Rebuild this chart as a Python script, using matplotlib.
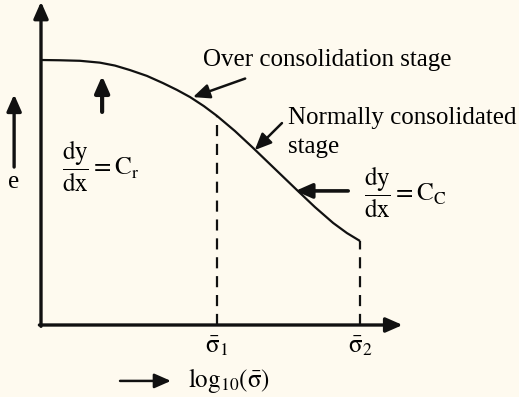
import matplotlib.pyplot as plt

# e - log(sigma) consolidation curve (schematic units)
log_sigma = [0.0, 0.59, 1.22, 1.84, 2.31, 2.78, 3.31, 3.81, 4.25, 4.66,
             5.09, 5.5, 6.06, 6.63, 7.31, 8.0, 8.56, 9.13, 9.56, 9.97]
void_ratio = [10.0, 9.99, 9.97, 9.90, 9.79, 9.62, 9.40, 9.13, 8.87, 8.60,
              8.26, 7.89, 7.32, 6.68, 5.89, 5.09, 4.45, 3.85, 3.47, 3.17]

# stress marks on the x axis
sigma_idx = [11, 19]
sigma_labels = [r'$\bar{\mathrm{\sigma}}_1$', r'$\bar{\mathrm{\sigma}}_2$']

BG = '#fefaef'
INK = '#111111'
FS = 18
plt.rcParams['font.family'] = ['Liberation Serif', 'DejaVu Serif']
plt.rcParams['mathtext.fontset'] = 'stix'

fig = plt.figure(figsize=(5.19, 3.97), dpi=100, facecolor=BG)
ax = fig.add_axes([0, 0, 1, 1])
ax.set_facecolor(BG)
ax.set_xlim(-41 / 32, 478 / 32)
ax.set_ylim(-72 / 26.5, 325 / 26.5)
ax.set_axis_off()

arrow = dict(arrowstyle='-|>,head_length=0.5,head_width=0.22', color=INK,
             lw=1.8, shrinkA=0, shrinkB=0, mutation_scale=20)

# axes with arrow heads
ax.annotate('', xy=(0, 12.2), xytext=(0, -0.05),
            arrowprops=dict(arrow, lw=2.4))
ax.annotate('', xy=(11.3, 0), xytext=(-0.05, 0),
            arrowprops=dict(arrow, lw=2.4))

# curve
ax.plot(log_sigma, void_ratio, color=INK, lw=1.6, solid_capstyle='butt')

# dashed drops to the stress axis
for i, lab in zip(sigma_idx, sigma_labels):
    xs = log_sigma[i]
    ax.plot([xs, xs], [0, void_ratio[i]], color=INK, lw=1.6,
            dashes=(5, 3.5))
    ax.text(xs, -0.8, lab, ha='center', va='center', fontsize=FS)

# labels and pointers
ax.text(5.07, 10.0, 'Over consolidation stage', ha='left', va='center',
        fontsize=FS)
ax.annotate('', xy=(4.75, 8.6), xytext=(6.38, 9.3), arrowprops=arrow)

ax.text(7.72, 7.8, 'Normally consolidated', ha='left', va='center',
        fontsize=FS)
ax.text(7.72, 6.7, 'stage', ha='left', va='center', fontsize=FS)
ax.annotate('', xy=(6.68, 6.6), xytext=(7.53, 7.62), arrowprops=arrow)

ax.text(10.1, 5.0, r'$\dfrac{\mathrm{dy}}{\mathrm{dx}}=\mathrm{C_C}$',
        ha='left', va='center', fontsize=FS)
ax.annotate('', xy=(7.95, 5.06), xytext=(9.6, 5.06),
            arrowprops=dict(arrow, lw=2.6))

ax.text(0.66, 6.0, r'$\dfrac{\mathrm{dy}}{\mathrm{dx}}=\mathrm{C_r}$',
        ha='left', va='center', fontsize=FS)
ax.annotate('', xy=(1.91, 9.4), xytext=(1.91, 8.04),
            arrowprops=dict(arrow, lw=3.0))

# axis titles
ax.annotate('', xy=(-0.84, 8.7), xytext=(-0.84, 5.96),
            arrowprops=dict(arrow, lw=2.4))
ax.text(-0.84, 5.38, 'e', ha='center', va='center', fontsize=FS)

ax.annotate('', xy=(4.06, -2.11), xytext=(2.47, -2.11), arrowprops=arrow)
ax.text(4.6, -2.08, r'$\mathrm{log}_{10}(\bar{\mathrm{\sigma}})$',
        ha='left', va='center', fontsize=FS)

fig.savefig('out.png', dpi=100, facecolor=BG)
